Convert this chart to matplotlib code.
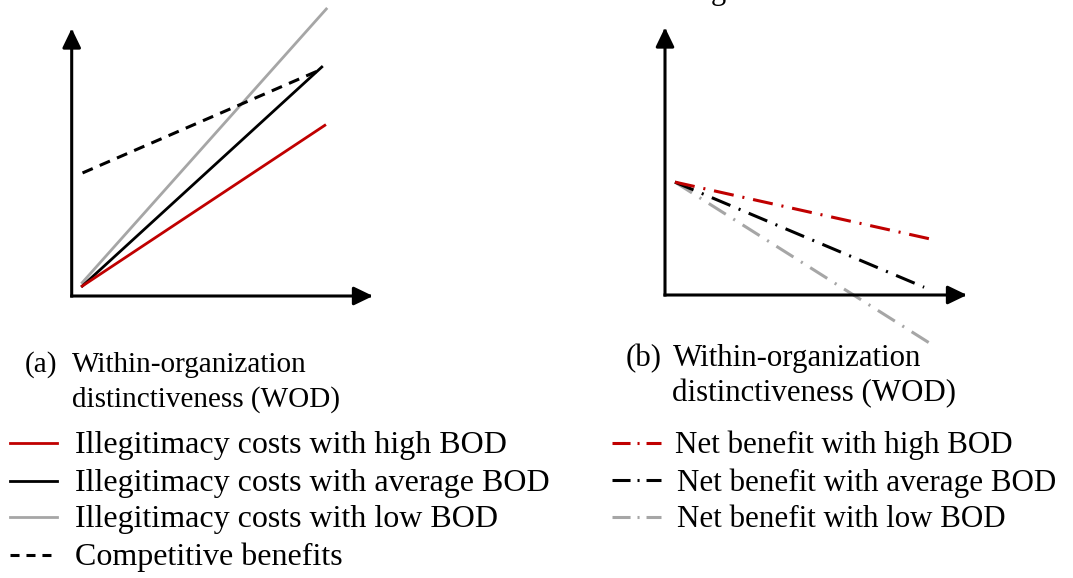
import matplotlib
matplotlib.use("Agg")
import matplotlib.pyplot as plt
from matplotlib.lines import Line2D

plt.rcParams['font.family'] = ['Liberation Serif', 'DejaVu Serif']
plt.rcParams['lines.scale_dashes'] = False

W, H = 1073, 578

# ---------------- data (conceptual units, axes span 0..10) ----------------
cost_high_x = [0.35, 8.4]
cost_high_y = [0.37, 6.38]
cost_avg_x = [0.35, 8.3]
cost_avg_y = [0.37, 8.56]
cost_low_x = [0.35, 8.45]
cost_low_y = [0.50, 10.73]
benefit_x = [0.36, 8.2]
benefit_y = [4.60, 8.43]

net_high_x = [0.33, 8.8]
net_high_y = [4.22, 2.09]
net_avg_x = [0.33, 8.58]
net_avg_y = [4.22, 0.29]
net_low_x = [0.33, 8.75]
net_low_y = [4.22, -1.79]

left_labels = ["Illegitimacy costs with high BOD",
               "Illegitimacy costs with average BOD",
               "Illegitimacy costs with low BOD",
               "Competitive benefits"]
right_labels = ["Net benefit with high BOD",
                "Net benefit with average BOD",
                "Net benefit with low BOD"]
panel_a = ["(a)", "Within-organization", "distinctiveness (WOD)"]
panel_b = ["(b)", "Within-organization", "distinctiveness (WOD)"]

RED = "#C00000"
BLACK = "#000000"
GRAY = "#A6A6A6"
DASHED = (0, (8.0, 5.5))
DASHDOT = (0, (14.5, 6.4, 1.5, 6.4))


def fx(x):
    return x / W


def fy(y):
    return 1 - y / H


fig = plt.figure(figsize=(W / 100, H / 100), dpi=100)


def make_axes(x0, y0, x1, y1):
    ax = fig.add_axes([fx(x0), fy(y0), (x1 - x0) / W, (y0 - y1) / H])
    ax.set_xlim(0, 10)
    ax.set_ylim(0, 10)
    ax.axis('off')
    ap = dict(arrowstyle='-|>,head_length=0.58,head_width=0.28', lw=2.2,
              color='black', shrinkA=0, shrinkB=0, mutation_scale=20,
              capstyle='projecting')
    ax.annotate('', xy=(10, 0), xytext=(0, 0), arrowprops=ap,
                annotation_clip=False)
    ax.annotate('', xy=(0, 10), xytext=(0, 0), arrowprops=ap,
                annotation_clip=False)
    return ax


ax1 = make_axes(71.7, 296, 373, 28.5)
ax1.plot(cost_low_x, cost_low_y, color=GRAY, lw=2.0, clip_on=False)
ax1.plot(cost_avg_x, cost_avg_y, color=BLACK, lw=2.0, clip_on=False)
ax1.plot(cost_high_x, cost_high_y, color=RED, lw=2.0, clip_on=False)
ax1.plot(benefit_x, benefit_y, color=BLACK, lw=2.2, linestyle=DASHED,
         clip_on=False)

ax2 = make_axes(665, 295, 967, 27.5)
ax2.plot(net_low_x, net_low_y, color=GRAY, lw=2.2, linestyle=DASHDOT,
         clip_on=False)
ax2.plot(net_avg_x, net_avg_y, color=BLACK, lw=2.2, linestyle=DASHDOT,
         clip_on=False)
ax2.plot(net_high_x, net_high_y, color=RED, lw=2.2, linestyle=DASHDOT,
         clip_on=False)

# panel captions
fig.text(fx(25), fy(372), panel_a[0], fontsize=21, va='baseline')
fig.text(fx(72), fy(372), panel_a[1], fontsize=21, va='baseline')
fig.text(fx(72), fy(407), panel_a[2], fontsize=21, va='baseline')
fig.text(fx(626), fy(366), panel_b[0], fontsize=22.2, va='baseline')
fig.text(fx(673), fy(366), panel_b[1], fontsize=22.2, va='baseline')
fig.text(fx(672), fy(401), panel_b[2], fontsize=22.2, va='baseline')

# cut-off character from a line above the figure
fig.text(fx(711), fy(-1), "g", fontsize=22, va='baseline')

# left legend
left_styles = [(RED, '-', 2.0), (BLACK, '-', 2.0), (GRAY, '-', 2.0),
               (BLACK, (0, (6.5, 5.0)), 2.2)]
left_rows = [443, 480.7, 517, 555]
for (c, ls, lw), yrow, lab in zip(left_styles, left_rows, left_labels):
    fig.add_artist(Line2D([fx(10), fx(57)], [fy(yrow), fy(yrow)], color=c,
                          lw=lw, linestyle=ls, transform=fig.transFigure))
    fig.text(fx(75), fy(yrow + 10.5), lab, fontsize=23, va='baseline')

# right legend
right_colors = [RED, BLACK, GRAY]
right_rows = [442.7, 480, 516.7]
right_tx = [675, 677, 677]
for c, yrow, tx, lab in zip(right_colors, right_rows, right_tx, right_labels):
    fig.add_artist(Line2D([fx(612), fx(661)], [fy(yrow), fy(yrow)], color=c,
                          lw=2.2, linestyle=(0, (13.0, 5.0, 1.5, 5.0)),
                          transform=fig.transFigure))
    fig.text(fx(tx), fy(yrow + 10.5), lab, fontsize=22.3, va='baseline')

fig.savefig("out.png", dpi=100)
